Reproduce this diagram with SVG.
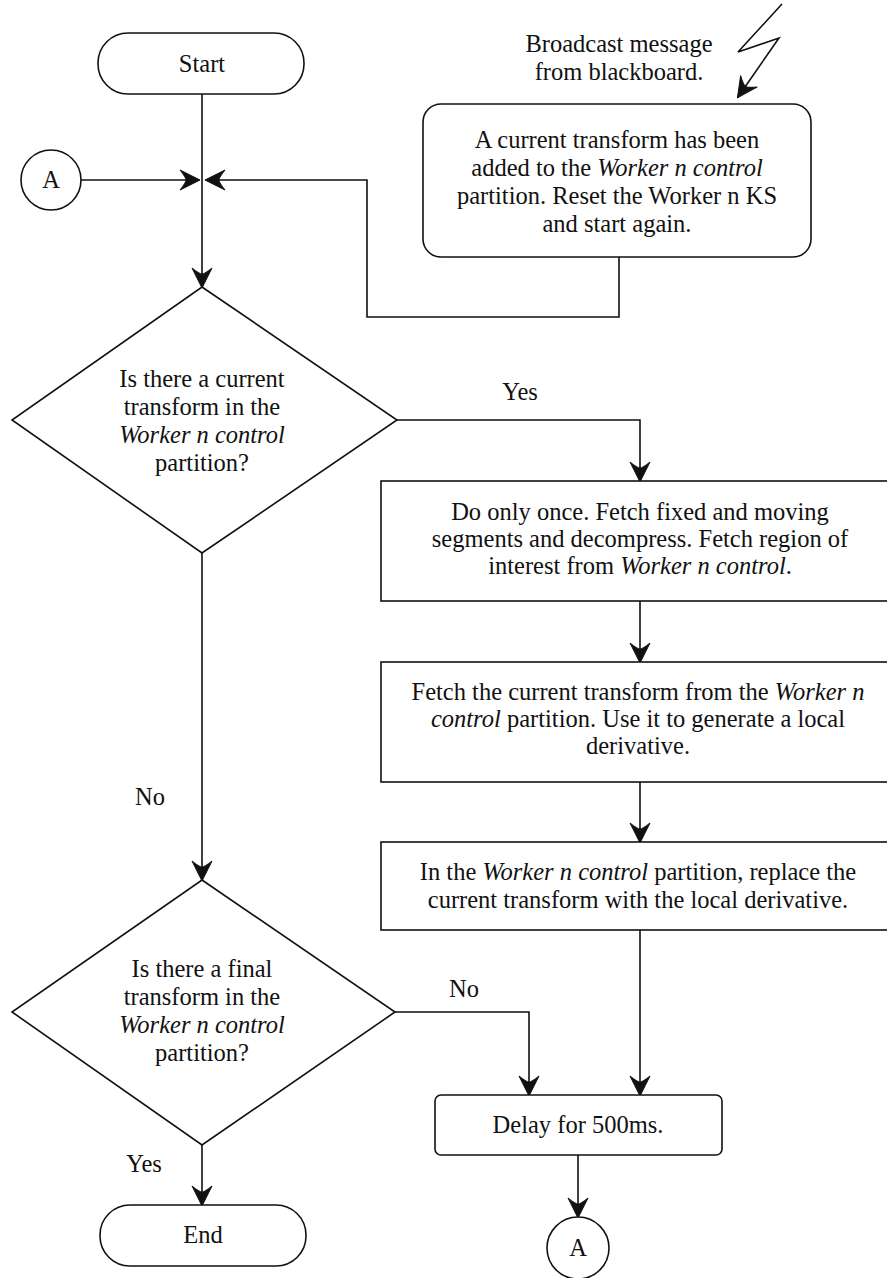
<svg xmlns="http://www.w3.org/2000/svg" width="887" height="1278" viewBox="0 0 887 1278" font-family="'Liberation Serif', 'Times New Roman', Times, serif">
  <style>
    .shape { fill: #ffffff; stroke: #111111; stroke-width: 1.6; }
    .conn { fill: none; stroke: #111111; stroke-width: 1.6; }
    text { font-family: 'Liberation Serif', 'Times New Roman', Times, serif; font-size: 24.5px; fill: #111111; text-anchor: middle; }
    .it { font-style: italic; }
  </style>
  <defs>
    <!-- swept-back dart arrowhead, tip at the end of the line -->
    <marker id="arrow" markerUnits="userSpaceOnUse" markerWidth="26" markerHeight="26" viewBox="-23 -13 26 26" refX="0" refY="0" orient="auto">
      <path d="M1,0 L-19,-10 Q-13,-2.5 -13,0 Q-13,2.5 -19,10 Z" fill="#111111" stroke="#111111" stroke-width="1" stroke-linejoin="round"/>
    </marker>
  </defs>

  <!-- connectors -->
  <g id="connectors">
    <line class="conn" x1="202" y1="94" x2="202" y2="287" marker-end="url(#arrow)"/>
    <line class="conn" x1="81" y1="180" x2="199" y2="180" marker-end="url(#arrow)"/>
    <polyline class="conn" points="619,257 619,317 367,317 367,180 206,180" marker-end="url(#arrow)"/>
    <polyline class="conn" points="397,420 640,420 640,481" marker-end="url(#arrow)"/>
    <line class="conn" x1="640" y1="601" x2="640" y2="662" marker-end="url(#arrow)"/>
    <line class="conn" x1="640" y1="782" x2="640" y2="842" marker-end="url(#arrow)"/>
    <line class="conn" x1="640" y1="930" x2="640" y2="1095" marker-end="url(#arrow)"/>
    <line class="conn" x1="202" y1="553" x2="202" y2="880" marker-end="url(#arrow)"/>
    <polyline class="conn" points="395,1012 529,1012 529,1095" marker-end="url(#arrow)"/>
    <line class="conn" x1="202" y1="1145" x2="202" y2="1205" marker-end="url(#arrow)"/>
    <line class="conn" x1="578" y1="1155" x2="578" y2="1217" marker-end="url(#arrow)"/>
    <!-- lightning bolt for the broadcast message -->
    <polyline class="conn" points="782,4 738,52 779,38 738,97" marker-end="url(#arrow)"/>
  </g>

  <g id="start">
    <rect class="shape" x="98" y="33" width="206" height="61" rx="30" ry="30"/>
    <text x="202" y="72">Start</text>
  </g>

  <g id="connector-a-in">
    <circle class="shape" cx="51" cy="180" r="30"/>
    <text x="51" y="188">A</text>
  </g>

  <g id="broadcast-note">
    <text x="619" y="52">Broadcast message</text>
    <text x="619" y="80">from blackboard.</text>
  </g>

  <g id="reset">
    <rect class="shape" x="423" y="104" width="388" height="153" rx="18" ry="18"/>
    <text x="617" y="148">A current transform has been</text>
    <text x="617" y="176">added to the <tspan class="it">Worker n control</tspan></text>
    <text x="617" y="204">partition. Reset the Worker n KS</text>
    <text x="617" y="232">and start again.</text>
  </g>

  <g id="decision-current">
    <polygon class="shape" points="202,287 397,420 202,553 12,420"/>
    <text x="202" y="387">Is there a current</text>
    <text x="202" y="415">transform in the</text>
    <text class="it" x="202" y="443">Worker n control</text>
    <text x="202" y="471">partition?</text>
  </g>

  <g id="label-yes-1">
    <text x="520" y="400">Yes</text>
  </g>

  <g id="fetch-segments">
    <rect class="shape" x="381" y="481" width="512" height="120"/>
    <text x="640" y="520">Do only once. Fetch fixed and moving</text>
    <text x="640" y="547">segments and decompress. Fetch region of</text>
    <text x="640" y="574">interest from <tspan class="it">Worker n control</tspan>.</text>
  </g>

  <g id="fetch-transform">
    <rect class="shape" x="381" y="662" width="512" height="120"/>
    <text x="638" y="700">Fetch the current transform from the <tspan class="it">Worker n</tspan></text>
    <text x="638" y="727"><tspan class="it">control</tspan> partition. Use it to generate a local</text>
    <text x="638" y="754">derivative.</text>
  </g>

  <g id="replace-transform">
    <rect class="shape" x="381" y="842" width="512" height="88"/>
    <text x="638" y="880">In the <tspan class="it">Worker n control</tspan> partition, replace the</text>
    <text x="638" y="908">current transform with the local derivative.</text>
  </g>

  <g id="label-no-1">
    <text x="150" y="805">No</text>
  </g>

  <g id="decision-final">
    <polygon class="shape" points="202,880 395,1012 202,1145 12,1012"/>
    <text x="202" y="977">Is there a final</text>
    <text x="202" y="1005">transform in the</text>
    <text class="it" x="202" y="1033">Worker n control</text>
    <text x="202" y="1061">partition?</text>
  </g>

  <g id="label-no-2">
    <text x="464" y="997">No</text>
  </g>

  <g id="delay">
    <rect class="shape" x="435" y="1095" width="287" height="60" rx="6" ry="6"/>
    <text x="578" y="1133">Delay for 500ms.</text>
  </g>

  <g id="connector-a-out">
    <circle class="shape" cx="578" cy="1248" r="31"/>
    <text x="578" y="1256">A</text>
  </g>

  <g id="label-yes-2">
    <text x="144" y="1172">Yes</text>
  </g>

  <g id="end">
    <rect class="shape" x="100" y="1205" width="206" height="61" rx="30" ry="30"/>
    <text x="203" y="1243">End</text>
  </g>
</svg>
